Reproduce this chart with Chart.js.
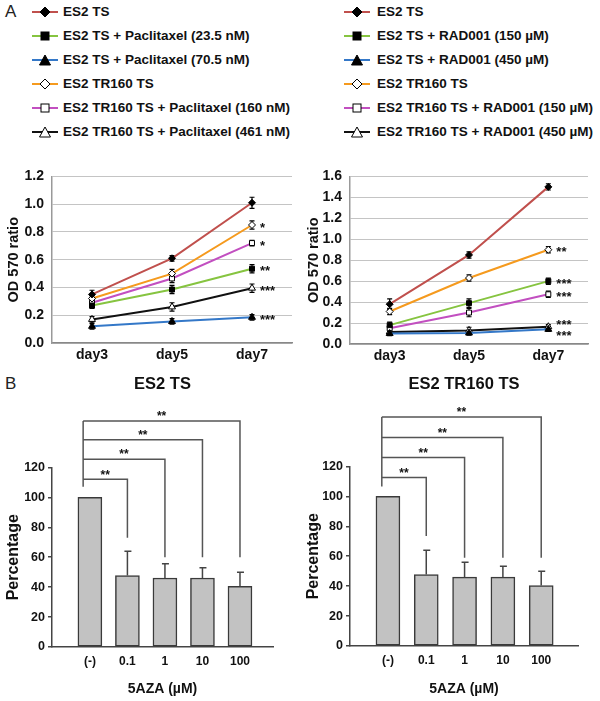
<!DOCTYPE html>
<html>
<head>
<meta charset="utf-8">
<script src="https://cdn.jsdelivr.net/npm/chart.js@4.4.1/dist/chart.umd.min.js"></script>
<style>
body { margin: 0; width: 600px; height: 701px; position: relative; background: #fff; overflow: hidden;
  font-family: "Liberation Sans", Arial, sans-serif; }
canvas { position: absolute; }
.row { position: absolute; white-space: nowrap; font-weight: bold; font-size: 13.5px; color: #111; height: 20px; line-height: 20px; }
.row svg { position: absolute; top: 3px; }
.panel { position: absolute; font-size: 17px; color: #222; }
</style>
</head>
<body>
<div class="panel" style="left:5px;top:2px">A</div>
<div class="panel" style="left:5px;top:374px">B</div>
<div id="legL"></div>
<div id="legR"></div>
<canvas id="lineL" width="300" height="210" style="left:0;top:160px"></canvas>
<canvas id="lineR" width="300" height="210" style="left:300px;top:160px"></canvas>
<canvas id="barL" width="300" height="336" style="left:0;top:365px"></canvas>
<canvas id="barR" width="300" height="336" style="left:300px;top:365px"></canvas>
<script>
// ---- panel A data ----
const days = ['day3', 'day5', 'day7'];

const paxNames = ['ES2 TS', 'ES2 TS + Paclitaxel (23.5 nM)', 'ES2 TS + Paclitaxel (70.5 nM)',
  'ES2 TR160 TS', 'ES2 TR160 TS + Paclitaxel (160 nM)', 'ES2 TR160 TS + Paclitaxel (461 nM)'];
const radNames = ['ES2 TS', 'ES2 TS + RAD001 (150 µM)', 'ES2 TS + RAD001 (450 µM)',
  'ES2 TR160 TS', 'ES2 TR160 TS + RAD001 (150 µM)', 'ES2 TR160 TS + RAD001 (450 µM)'];

const lineColors = ['#c0504d', '#86c440', '#3478c8', '#f59a1e', '#c24fc0', '#111111'];
const markers = ['rectRot', 'rect', 'triangle', 'rectRot', 'rect', 'triangle'];
const filled = [true, true, true, false, false, false];

// paclitaxel panel
const paxEs2 = [0.35, 0.61, 1.01];
const paxLow = [0.27, 0.385, 0.535];
const paxHigh = [0.12, 0.155, 0.185];
const paxTr = [0.32, 0.50, 0.85];
const paxTrLow = [0.29, 0.465, 0.72];
const paxTrHigh = [0.17, 0.26, 0.395];
const paxErr = [[0.03, 0.02, 0.04], [0.02, 0.03, 0.03], [0.02, 0.02, 0.02],
  [0.02, 0.03, 0.03], [0.02, 0.03, 0.02], [0.02, 0.03, 0.03]];
const paxStars = ['', '**', '***', '*', '*', '***'];

// RAD001 panel
const radEs2 = [0.38, 0.85, 1.50];
const radLow = [0.18, 0.39, 0.60];
const radHigh = [0.10, 0.105, 0.14];
const radTr = [0.31, 0.63, 0.90];
const radTrLow = [0.15, 0.30, 0.475];
const radTrHigh = [0.115, 0.13, 0.165];
const radErr = [[0.05, 0.03, 0.03], [0.03, 0.04, 0.03], [0.02, 0.02, 0.02],
  [0.03, 0.03, 0.03], [0.03, 0.04, 0.03], [0.03, 0.03, 0.02]];
const radStars = ['', '***', '***', '**', '***', '***'];

// ---- panel B data ----
const azaLabels = ['(-)', '0.1', '1', '10', '100'];
const tsPct = [100, 47.7, 46.1, 46.1, 40.5];
const tsErr = [0, 16.3, 9.6, 6.9, 9.5];
const trPct = [100, 47.7, 46, 46, 40.4];
const trErr = [0, 16.3, 10, 7.3, 9.6];
const tsBracketY = [112, 125.5, 138.5, 151];
const tsBracketEnd = [73, 60, 60, 60];
const trBracketY = [112.6, 126, 139.3, 153];
const trBracketEnd = [73.5, 59, 59, 59];

const FONT = '"Liberation Sans", Arial, sans-serif';
Chart.defaults.font.family = FONT;

function legend(el, names, iconX, textX) {
  const box = document.getElementById(el);
  names.forEach((n, i) => {
    const cy = 12 + i * 24;
    const row = document.createElement('div');
    row.className = 'row';
    row.style.top = (cy - 10) + 'px';
    row.style.left = iconX + 'px';
    const fill = filled[i] ? '#000' : '#fff';
    let mk;
    if (markers[i] === 'rectRot') mk = `<polygon points="13,2 18,7 13,12 8,7" fill="${fill}" stroke="#000" stroke-width="1"/>`;
    else if (markers[i] === 'rect') mk = `<rect x="9" y="3" width="8" height="8" fill="${fill}" stroke="#000" stroke-width="1"/>`;
    else mk = `<polygon points="13,2 18.5,12 7.5,12" fill="${fill}" stroke="#000" stroke-width="1"/>`;
    row.innerHTML = `<svg width="26" height="14" style="left:0"><line x1="0" y1="7" x2="26" y2="7" stroke="${lineColors[i]}" stroke-width="2"/>${mk}</svg>` +
      `<span style="position:absolute;left:${textX - iconX}px">${n}</span>`;
    box.appendChild(row);
  });
}
legend('legL', paxNames, 32, 63);
legend('legR', radNames, 344, 377);

const lineExtras = {
  id: 'lineExtras',
  beforeDatasetsDraw(chart) {
    const { ctx } = chart;
    const y = chart.scales.y;
    ctx.save();
    ctx.strokeStyle = '#000';
    ctx.lineWidth = 1.2;
    chart.data.datasets.forEach((ds, i) => {
      chart.getDatasetMeta(i).data.forEach((pt, j) => {
        const v = ds.data[j], e = ds.err[j];
        const y1 = y.getPixelForValue(v + e), y2 = y.getPixelForValue(v - e);
        ctx.beginPath();
        ctx.moveTo(pt.x, y1); ctx.lineTo(pt.x, y2);
        ctx.moveTo(pt.x - 2.5, y1); ctx.lineTo(pt.x + 2.5, y1);
        ctx.moveTo(pt.x - 2.5, y2); ctx.lineTo(pt.x + 2.5, y2);
        ctx.stroke();
      });
    });
    ctx.restore();
  },
  afterDatasetsDraw(chart, args, opts) {
    const { ctx } = chart;
    const nudge = opts.nudge || [];
    ctx.save();
    ctx.fillStyle = '#111';
    ctx.font = 'bold 13px ' + FONT;
    ctx.textBaseline = 'middle';
    chart.data.datasets.forEach((ds, i) => {
      if (!ds.star) return;
      const pts = chart.getDatasetMeta(i).data;
      const last = pts[pts.length - 1];
      ctx.fillText(ds.star, last.x + 8, last.y + 3 + (nudge[i] || 0));
    });
    ctx.restore();
  }
};

function lineChart(id, series, errs, stars, yMax, yW, padR, axisH, nudge) {
  return new Chart(document.getElementById(id), {
    type: 'line',
    data: {
      labels: days,
      datasets: series.map((s, i) => ({
        data: s,
        err: errs[i],
        star: stars[i],
        borderColor: lineColors[i],
        borderWidth: 2,
        pointStyle: markers[i],
        pointRadius: markers[i] === 'triangle' ? 4 : 3.5,
        pointBackgroundColor: filled[i] ? '#000' : '#fff',
        pointBorderColor: '#000',
        pointBorderWidth: 1,
        tension: 0
      }))
    },
    options: {
      responsive: false,
      animation: false,
      layout: { padding: { top: 11, right: padR, left: 0, bottom: 0 } },
      plugins: { legend: { display: false }, tooltip: { enabled: false }, lineExtras: { nudge } },
      scales: {
        x: {
          offset: true,
          grid: { display: false, drawTicks: false },
          border: { color: '#888', width: 1.5 },
          ticks: { font: { size: 14, weight: 'bold' }, color: '#111', padding: 4 },
          afterFit: s => { s.height = axisH; }
        },
        y: {
          min: 0, max: yMax,
          ticks: { stepSize: 0.2, font: { size: 14, weight: 'bold' }, color: '#111', padding: 8,
            callback: v => v.toFixed(1) },
          grid: { color: '#c4c4c4', lineWidth: 1, drawTicks: false },
          border: { color: '#999', width: 1.5 },
          title: { display: true, text: 'OD 570 ratio', font: { size: 14.5, weight: 'bold' }, color: '#111',
            padding: { top: 5, bottom: 0 } },
          afterFit: s => { s.width = yW; }
        }
      }
    },
    plugins: [lineExtras]
  });
}

lineChart('lineL', [paxEs2, paxLow, paxHigh, paxTr, paxTrLow, paxTrHigh], paxErr, paxStars, 1.2, 52, 8, 27, []);
lineChart('lineR', [radEs2, radLow, radHigh, radTr, radTrLow, radTrHigh], radErr, radStars, 1.6, 50, 12, 26,
  [0, 0, 4, 0, 0, -4]);

const barExtras = {
  id: 'barExtras',
  afterDatasetsDraw(chart, args, opts) {
    const { ctx } = chart;
    const x = chart.scales.x, y = chart.scales.y;
    const ds = chart.data.datasets[0];
    ctx.save();
    // upper error whiskers
    ctx.strokeStyle = '#444';
    ctx.lineWidth = 1.5;
    chart.getDatasetMeta(0).data.forEach((bar, i) => {
      const e = ds.err[i];
      if (!e) return;
      const top = y.getPixelForValue(ds.data[i].y + e);
      ctx.beginPath();
      ctx.moveTo(bar.x, bar.y); ctx.lineTo(bar.x, top);
      ctx.moveTo(bar.x - 3, top); ctx.lineTo(bar.x + 4, top);
      ctx.stroke();
    });
    // significance brackets
    ctx.strokeStyle = '#555';
    const lx = x.getPixelForValue(opts.leftX);
    ctx.beginPath();
    ctx.moveTo(lx, y.getPixelForValue(opts.levels[opts.levels.length - 1]));
    ctx.lineTo(lx, y.getPixelForValue(opts.leftEnd));
    opts.levels.forEach((lv, k) => {
      const ly = y.getPixelForValue(lv);
      const rx = x.getPixelForValue(k + 1);
      ctx.moveTo(lx, ly); ctx.lineTo(rx, ly);
      ctx.lineTo(rx, y.getPixelForValue(opts.ends[k]));
    });
    ctx.stroke();
    ctx.fillStyle = '#111';
    ctx.font = 'bold 12px ' + FONT;
    ctx.textAlign = 'center';
    ctx.textBaseline = 'middle';
    opts.levels.forEach((lv, k) => {
      const mx = (lx + x.getPixelForValue(k + 1)) / 2;
      ctx.fillText('**', mx, y.getPixelForValue(lv) - 4);
    });
    ctx.restore();
  }
};

function barChart(id, title, vals, errs, levels, ends, leftX, leftEnd, xMin, xMax, yW, padR, axisH, titleBottom) {
  return new Chart(document.getElementById(id), {
    type: 'bar',
    data: {
      datasets: [{
        data: vals.map((v, i) => ({ x: i, y: v })),
        err: errs,
        backgroundColor: '#c2c2c2',
        borderColor: '#3a3a3a',
        borderWidth: 1.5,
        borderSkipped: false,
        barThickness: 24
      }]
    },
    options: {
      responsive: false,
      animation: false,
      layout: { padding: { top: 0, right: padR, left: 0, bottom: 0 } },
      plugins: {
        legend: { display: false },
        tooltip: { enabled: false },
        title: { display: true, text: title, fullSize: false, color: '#111',
          font: { size: 16.5, weight: 'bold' }, padding: { top: 10, bottom: titleBottom } },
        barExtras: { levels, ends, leftX, leftEnd }
      },
      scales: {
        x: {
          type: 'linear', min: xMin, max: xMax, offset: false,
          afterBuildTicks: a => { a.ticks = azaLabels.map((_, i) => ({ value: i })); },
          ticks: { callback: v => azaLabels[v] ?? '', autoSkip: false, maxRotation: 0,
            font: { size: 12, weight: 'bold' }, color: '#111', padding: 7 },
          grid: { display: false, drawTicks: false },
          border: { color: '#444', width: 1.5 },
          title: { display: true, text: '5AZA (µM)', color: '#111', font: { size: 14, weight: 'bold' },
            padding: { top: 0, bottom: 3 } },
          afterFit: s => { s.height = axisH; }
        },
        y: {
          min: 0, max: 120,
          ticks: { stepSize: 20, font: { size: 12.5, weight: 'bold' }, color: '#111', padding: 3 },
          grid: { drawOnChartArea: false, tickLength: 4, color: '#444', lineWidth: 1.5 },
          border: { color: '#444', width: 1.5 },
          title: { display: true, text: 'Percentage', color: '#111', font: { size: 16, weight: 'bold' },
            padding: { top: 4, bottom: 0 } },
          afterFit: s => { s.width = yW; }
        }
      }
    },
    plugins: [barExtras]
  });
}

barChart('barL', 'ES2 TS', tsPct, tsErr, tsBracketY, tsBracketEnd, -0.18, 107, -1.01, 4.88, 52, 27, 54, 72.6);
barChart('barR', 'ES2 TR160 TS', trPct, trErr, trBracketY, trBracketEnd, -0.16, 106.6, -0.99, 4.96, 50, 22, 55, 71.6);
</script>
</body>
</html>
